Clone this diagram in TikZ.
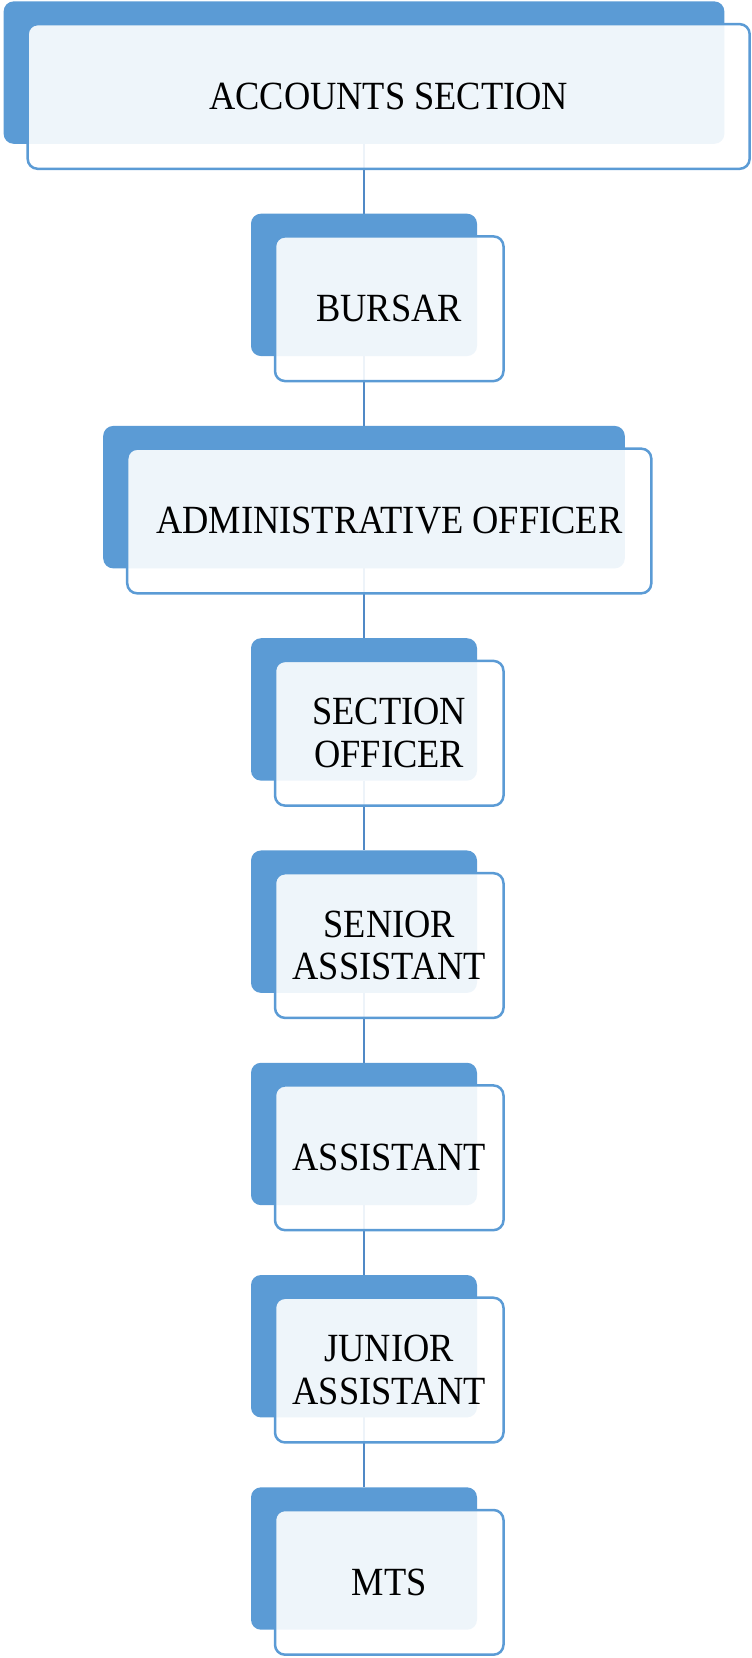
\documentclass[tikz,border=0pt]{standalone}
\usepackage{fontspec}
\setmainfont[FakeStretch=0.91]{Liberation Serif}
\usepackage{tikz}
\usetikzlibrary{positioning,backgrounds}
\definecolor{accblue}{HTML}{5B9BD5}
\definecolor{linkblue}{HTML}{5089C6}

\begin{document}
\begin{tikzpicture}[x=1pt,y=-1pt,
    backbox/.style={fill=accblue, rounded corners=10pt, inner sep=0pt, outer sep=0pt, minimum height=142.4pt, minimum width=226pt},
    frontbox/.style={draw=accblue, line width=2.5pt, fill=white, fill opacity=0.9, text opacity=1, rounded corners=10pt, inner sep=0pt, outer sep=0pt, minimum height=144.7pt, minimum width=228.5pt, align=center, anchor=north west, font=\fontsize{40}{42.7}\selectfont},
    linkline/.style={linkblue, line width=2.7pt},
    node distance=69.87pt]
    \useasboundingbox (0,0) rectangle (752,1658);
    % blue boxes
    \node[backbox, minimum width=720.7pt] (acc) at (364,72.6) {};
    \node[backbox, below=of acc] (bursar) {};
    \node[backbox, minimum width=521.6pt, below=of bursar] (ao) {};
    \node[backbox, below=of ao] (so) {};
    \node[backbox, below=of so] (sa) {};
    \node[backbox, below=of sa] (asst) {};
    \node[backbox, below=of asst] (ja) {};
    \node[backbox, below=of ja] (mts) {};
    % connectors
    \begin{pgfonlayer}{background}
      \draw[linkline] (acc.south) -- (bursar.north);
      \draw[linkline] (bursar.south) -- (ao.north);
      \draw[linkline] (ao.south) -- (so.north);
      \draw[linkline] (so.south) -- (sa.north);
      \draw[linkline] (sa.south) -- (asst.north);
      \draw[linkline] (asst.south) -- (ja.north);
      \draw[linkline] (ja.south) -- (mts.north);
    \end{pgfonlayer}
    % front boxes with the texts
    \node[frontbox, minimum width=722pt] (accT) at ([shift={(24,22.7)}]acc.north west) {ACCOUNTS SECTION};
    \node[frontbox] (bursarT) at ([shift={(24,22.7)}]bursar.north west) {BURSAR};
    \node[frontbox, minimum width=524.1pt] (aoT) at ([shift={(24,22.7)}]ao.north west) {ADMINISTRATIVE OFFICER};
    \node[frontbox] (soT) at ([shift={(24,22.7)}]so.north west) {SECTION\\OFFICER};
    \node[frontbox] (saT) at ([shift={(24,22.7)}]sa.north west) {SENIOR\\ASSISTANT};
    \node[frontbox] (asstT) at ([shift={(24,22.7)}]asst.north west) {ASSISTANT};
    \node[frontbox] (jaT) at ([shift={(24,22.7)}]ja.north west) {JUNIOR\\ASSISTANT};
    \node[frontbox] (mtsT) at ([shift={(24,22.7)}]mts.north west) {MTS};
  \end{tikzpicture}
\end{document}
